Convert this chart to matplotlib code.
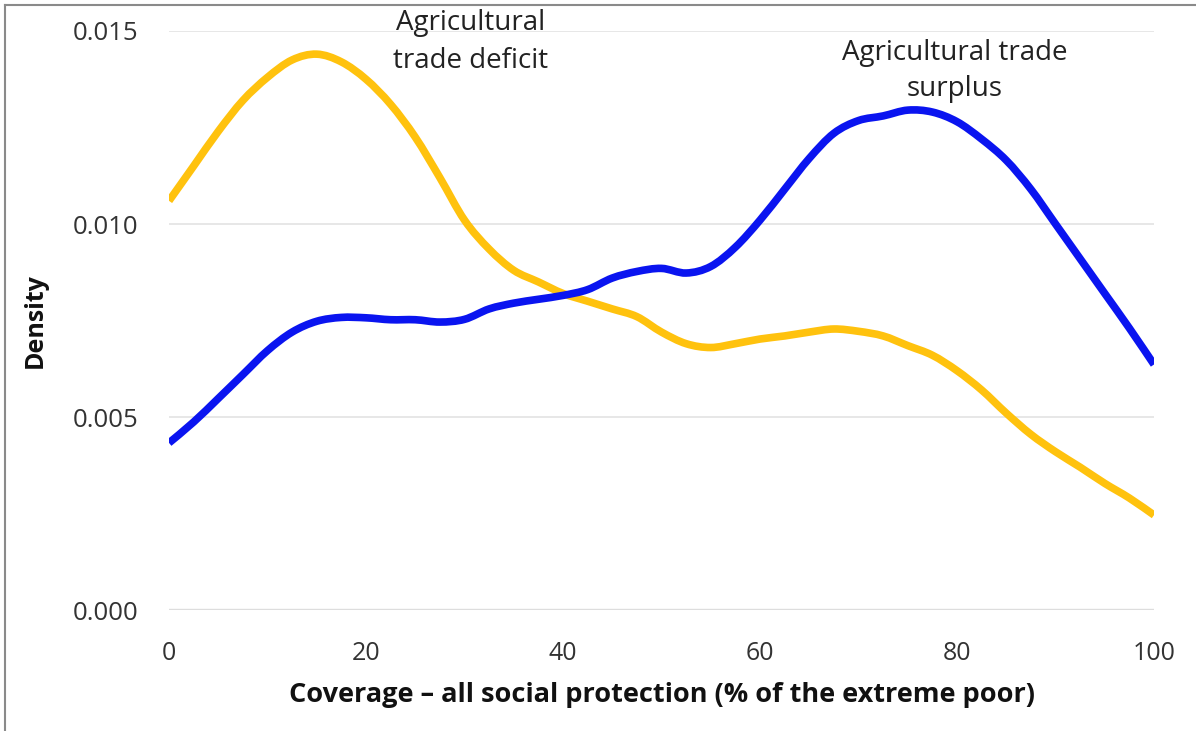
# -*- coding: utf-8 -*-
# density of social protection coverage, deficit vs surplus countries

import numpy as np
import matplotlib
matplotlib.use("Agg")
import matplotlib.pyplot as plt
from matplotlib.lines import Line2D
from matplotlib.path import Path
from matplotlib.patches import PathPatch

# data
coverage = [0, 2.5, 5, 7.5, 10, 12.5, 15, 17.5, 20, 22.5, 25, 27.5, 30, 32.5, 35, 37.5,
            40, 42.5, 45, 47.5, 50, 52.5, 55, 57.5, 60, 62.5, 65, 67.5, 70, 72.5, 75,
            77.5, 80, 82.5, 85, 87.5, 90, 92.5, 95, 97.5, 100]

deficit = [0.0106, 0.0115, 0.0124, 0.0132, 0.0138, 0.01425, 0.0144, 0.0142, 0.01375,
           0.0131, 0.01225, 0.0112, 0.0101, 0.00935, 0.0088, 0.0085, 0.0082, 0.0080,
           0.0078, 0.0076, 0.0072, 0.0069, 0.0068, 0.0069, 0.00702, 0.0071, 0.0072,
           0.00728, 0.00722, 0.0071, 0.00685, 0.0066, 0.0062, 0.0057, 0.0051, 0.00455,
           0.0041, 0.0037, 0.00328, 0.0029, 0.00246]

surplus = [0.00433, 0.00487, 0.00548, 0.0061, 0.00672, 0.0072, 0.00748, 0.00758, 0.00757,
           0.00752, 0.00752, 0.00746, 0.00753, 0.0078, 0.00795, 0.00805, 0.00815, 0.0083,
           0.0086, 0.00877, 0.00885, 0.00873, 0.0089, 0.0094, 0.0101, 0.0109, 0.0117,
           0.01235, 0.01268, 0.0128, 0.01295, 0.0129, 0.01265, 0.0122, 0.01165, 0.0109,
           0.0100, 0.0091, 0.0082, 0.0073, 0.00636]

x_ticks = [0, 20, 40, 60, 80, 100]
y_ticks = [0.000, 0.005, 0.010, 0.015]
y_tick_labels = ["0.000", "0.005", "0.010", "0.015"]


def smooth_line(ax, xs, ys, color):
    # excel-style smoothed line: catmull-rom segments drawn as cubic beziers
    pts = np.column_stack([xs, ys])
    verts = [pts[0]]
    codes = [Path.MOVETO]
    n = len(pts)
    for i in range(n - 1):
        p0 = pts[max(i - 1, 0)]
        p1 = pts[i]
        p2 = pts[i + 1]
        p3 = pts[min(i + 2, n - 1)]
        verts += [p1 + (p2 - p0) / 6, p2 - (p3 - p1) / 6, p2]
        codes += [Path.CURVE4] * 3
    patch = PathPatch(Path(verts, codes), facecolor="none", edgecolor=color, lw=5.5,
                      capstyle="butt", joinstyle="round", zorder=3)
    ax.add_patch(patch)


plt.rcParams["font.family"] = ["Open Sans", "DejaVu Sans"]

fig = plt.figure(figsize=(11.96, 7.31), dpi=100)
ax = fig.add_axes([0.1413, 0.1655, 0.8236, 0.7921])

smooth_line(ax, coverage, deficit, "#FFC20E")
smooth_line(ax, coverage, surplus, "#0A14F0")

ax.set_xlim(0, 100)
ax.set_ylim(0, 0.015)
ax.set_xticks(x_ticks)
ax.set_yticks(y_ticks)
ax.set_yticklabels(y_tick_labels)
ax.tick_params(axis="both", length=0, labelsize=18.5, labelcolor="#333333")
ax.tick_params(axis="x", labelsize=18, pad=22)
ax.tick_params(axis="y", pad=22)

# horizontal grid
ax.yaxis.grid(True, color="#e3e3e3", lw=1.2, zorder=0)
ax.xaxis.grid(False)
for s in ax.spines.values():
    s.set_visible(False)
ax.axhline(0, color="#c4c4c4", lw=1.6, zorder=1)

ax.set_xlabel("Coverage \u2013 all social protection (% of the extreme poor)",
              fontsize=19.5, fontweight="bold", color="#111111", labelpad=12)
ax.set_ylabel("Density", fontsize=18, fontweight="bold", color="#111111", labelpad=18)

ax.text(30.6, 0.01471, "Agricultural\ntrade deficit", ha="center", va="center",
        fontsize=20, color="#222222", linespacing=1.5, clip_on=False)
ax.text(79.8, 0.01396, "Agricultural trade\nsurplus", ha="center", va="center",
        fontsize=20, color="#222222", linespacing=1.4, clip_on=False)

# thin frame around the picture
fig.add_artist(Line2D([5 / 1196, 5 / 1196], [0, 1 - 5 / 731], color="#8a8a8a", lw=1.5))
fig.add_artist(Line2D([5 / 1196, 1], [1 - 5 / 731, 1 - 5 / 731], color="#8a8a8a", lw=1.5))

fig.savefig("out.png", dpi=100, facecolor="white")
